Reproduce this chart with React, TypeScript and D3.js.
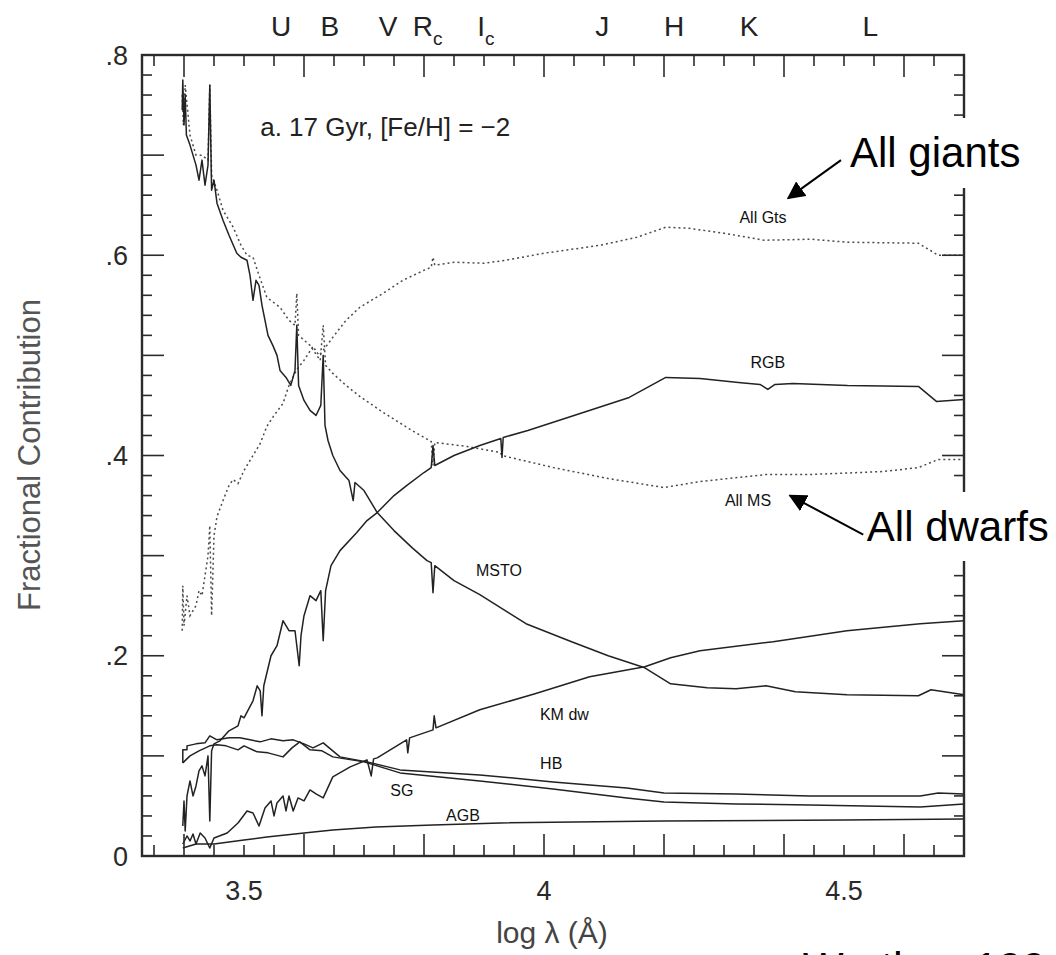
import React from 'react';
import * as d3 from 'd3';

// log(lambda) vs fractional contribution
const msto = [
  [3.397, 0.745], [3.398, 0.775], [3.4, 0.73], [3.402, 0.76], [3.404, 0.72], [3.41, 0.71], [3.42, 0.69],
  [3.425, 0.675], [3.43, 0.695], [3.435, 0.67], [3.44, 0.69], [3.443, 0.77], [3.446, 0.665], [3.45, 0.675],
  [3.455, 0.652], [3.465, 0.635], [3.475, 0.62], [3.488, 0.602], [3.495, 0.598], [3.505, 0.595], [3.51, 0.58],
  [3.515, 0.555], [3.52, 0.575], [3.525, 0.57], [3.53, 0.55], [3.535, 0.535], [3.54, 0.52], [3.548, 0.51],
  [3.555, 0.5], [3.56, 0.485], [3.57, 0.478], [3.578, 0.47], [3.585, 0.485], [3.588, 0.53], [3.591, 0.47],
  [3.6, 0.455], [3.61, 0.445], [3.62, 0.44], [3.628, 0.45], [3.632, 0.5], [3.635, 0.43], [3.64, 0.415],
  [3.648, 0.4], [3.66, 0.385], [3.675, 0.375], [3.682, 0.355], [3.685, 0.373], [3.7, 0.365], [3.722, 0.343],
  [3.75, 0.325], [3.78, 0.308], [3.805, 0.295], [3.812, 0.293], [3.815, 0.263], [3.818, 0.29], [3.85, 0.275],
  [3.893, 0.261], [3.97, 0.232], [4.046, 0.214], [4.107, 0.2], [4.168, 0.188], [4.211, 0.172], [4.272, 0.168],
  [4.32, 0.167], [4.37, 0.17], [4.419, 0.164], [4.505, 0.161], [4.624, 0.16], [4.645, 0.166], [4.7, 0.161],
];

const rgb = [
  [3.398, 0.03], [3.4, 0.055], [3.402, 0.025], [3.405, 0.06], [3.41, 0.075], [3.415, 0.06], [3.42, 0.07],
  [3.425, 0.085], [3.43, 0.09], [3.435, 0.08], [3.44, 0.1], [3.443, 0.035], [3.446, 0.105], [3.45, 0.112],
  [3.46, 0.115], [3.475, 0.125], [3.49, 0.13], [3.495, 0.14], [3.5, 0.138], [3.515, 0.155], [3.522, 0.17],
  [3.527, 0.165], [3.53, 0.14], [3.533, 0.17], [3.545, 0.2], [3.555, 0.21], [3.565, 0.235], [3.575, 0.225],
  [3.585, 0.225], [3.59, 0.2], [3.592, 0.19], [3.595, 0.22], [3.6, 0.24], [3.61, 0.26], [3.62, 0.255],
  [3.628, 0.265], [3.632, 0.215], [3.636, 0.265], [3.645, 0.29], [3.66, 0.305], [3.688, 0.323], [3.705, 0.335],
  [3.722, 0.343], [3.75, 0.36], [3.771, 0.37], [3.8, 0.383], [3.812, 0.388], [3.815, 0.41], [3.818, 0.39],
  [3.85, 0.4], [3.893, 0.41], [3.928, 0.417], [3.93, 0.398], [3.932, 0.418], [3.973, 0.425], [4.05, 0.44],
  [4.142, 0.458], [4.203, 0.478], [4.26, 0.477], [4.324, 0.473], [4.36, 0.471], [4.373, 0.466], [4.385, 0.471],
  [4.415, 0.472], [4.506, 0.47], [4.624, 0.469], [4.654, 0.454], [4.7, 0.456],
];

const allGiants = [
  [3.397, 0.225], [3.398, 0.27], [3.4, 0.23], [3.405, 0.26], [3.41, 0.24], [3.42, 0.25], [3.425, 0.265],
  [3.43, 0.26], [3.44, 0.3], [3.443, 0.33], [3.446, 0.24], [3.45, 0.32], [3.455, 0.339], [3.465, 0.355],
  [3.475, 0.37], [3.482, 0.376], [3.49, 0.372], [3.5, 0.385], [3.51, 0.395], [3.527, 0.412], [3.538, 0.429],
  [3.55, 0.44], [3.565, 0.452], [3.575, 0.47], [3.588, 0.486], [3.6, 0.495], [3.615, 0.509], [3.625, 0.5],
  [3.632, 0.505], [3.648, 0.518], [3.67, 0.535], [3.693, 0.548], [3.732, 0.562], [3.765, 0.575], [3.8, 0.585],
  [3.812, 0.588], [3.815, 0.598], [3.818, 0.59], [3.85, 0.593], [3.9, 0.592], [3.936, 0.595], [4.0, 0.602],
  [4.094, 0.61], [4.155, 0.618], [4.203, 0.628], [4.24, 0.627], [4.3, 0.622], [4.367, 0.615], [4.445, 0.616],
  [4.506, 0.613], [4.624, 0.612], [4.657, 0.6], [4.7, 0.6],
];

const allMS = [
  [3.397, 0.76], [3.399, 0.73], [3.402, 0.77], [3.41, 0.72], [3.42, 0.7], [3.43, 0.7], [3.44, 0.695],
  [3.443, 0.77], [3.446, 0.68], [3.455, 0.665], [3.465, 0.645], [3.482, 0.628], [3.495, 0.61], [3.505, 0.6],
  [3.515, 0.598], [3.525, 0.58], [3.538, 0.558], [3.56, 0.548], [3.575, 0.535], [3.585, 0.53], [3.588, 0.562],
  [3.591, 0.52], [3.61, 0.51], [3.627, 0.495], [3.632, 0.53], [3.636, 0.49], [3.648, 0.482], [3.67, 0.47],
  [3.693, 0.459], [3.732, 0.443], [3.777, 0.426], [3.812, 0.414], [3.815, 0.39], [3.818, 0.413], [3.872, 0.409],
  [3.927, 0.403], [3.93, 0.4], [4.015, 0.388], [4.107, 0.377], [4.2, 0.368], [4.26, 0.374], [4.37, 0.381],
  [4.443, 0.381], [4.566, 0.384], [4.624, 0.388], [4.657, 0.396], [4.7, 0.396],
];

const kmDwarfs = [
  [3.398, 0.012], [3.405, 0.02], [3.41, 0.015], [3.415, 0.022], [3.42, 0.012], [3.427, 0.023], [3.435, 0.018],
  [3.443, 0.008], [3.45, 0.018], [3.472, 0.023], [3.49, 0.033], [3.505, 0.045], [3.515, 0.043], [3.525, 0.03],
  [3.535, 0.048], [3.545, 0.055], [3.55, 0.04], [3.555, 0.053], [3.565, 0.06], [3.57, 0.045], [3.575, 0.06],
  [3.582, 0.045], [3.59, 0.058], [3.6, 0.055], [3.61, 0.066], [3.62, 0.062], [3.632, 0.058], [3.648, 0.079],
  [3.677, 0.089], [3.705, 0.096], [3.712, 0.08], [3.716, 0.097], [3.722, 0.098], [3.771, 0.116], [3.773, 0.103],
  [3.776, 0.118], [3.815, 0.126], [3.817, 0.14], [3.82, 0.128], [3.893, 0.146], [3.985, 0.162], [4.076, 0.179],
  [4.168, 0.189], [4.211, 0.198], [4.26, 0.205], [4.382, 0.214], [4.505, 0.225], [4.627, 0.232], [4.7, 0.235],
];

const hb = [
  [3.398, 0.093], [3.398, 0.106], [3.405, 0.106], [3.405, 0.11], [3.42, 0.112], [3.435, 0.113], [3.443, 0.12],
  [3.455, 0.116], [3.475, 0.118], [3.493, 0.118], [3.51, 0.116], [3.527, 0.114], [3.545, 0.117], [3.565, 0.115],
  [3.582, 0.116], [3.6, 0.112], [3.615, 0.108], [3.632, 0.113], [3.66, 0.099], [3.705, 0.094], [3.76, 0.086],
  [3.893, 0.081], [4.015, 0.074], [4.138, 0.068], [4.2, 0.063], [4.32, 0.062], [4.443, 0.06], [4.627, 0.06],
  [4.657, 0.063], [4.7, 0.062],
];

const sg = [
  [3.398, 0.093], [3.41, 0.1], [3.425, 0.105], [3.443, 0.11], [3.455, 0.111], [3.47, 0.11], [3.49, 0.106],
  [3.5, 0.11], [3.522, 0.104], [3.54, 0.103], [3.565, 0.099], [3.58, 0.108], [3.593, 0.114], [3.61, 0.106],
  [3.63, 0.105], [3.648, 0.099], [3.7, 0.094], [3.76, 0.083], [3.893, 0.075], [4.015, 0.067], [4.138, 0.058],
  [4.2, 0.054], [4.32, 0.052], [4.443, 0.051], [4.627, 0.049], [4.7, 0.052],
];

const agb = [
  [3.398, 0.008], [3.42, 0.012], [3.45, 0.012], [3.5, 0.016], [3.538, 0.019], [3.6, 0.023], [3.648, 0.026],
  [3.72, 0.029], [3.815, 0.031], [3.927, 0.033], [4.2, 0.035], [4.5, 0.036], [4.7, 0.037],
];

// photometric bands along the top (log of effective wavelength)
const bandNames = ['U', 'B', 'V', 'R', 'I', 'J', 'H', 'K', 'L'];
const bandSubs = ['', '', '', 'c', 'c', '', '', '', ''];
const bandLogLam = [3.562, 3.643, 3.740, 3.806, 3.903, 4.097, 4.217, 4.342, 4.544];

const xTickVals = [3.5, 4, 4.5];
const xTickText = ['3.5', '4', '4.5'];
const yTickVals = [0, 0.2, 0.4, 0.6, 0.8];
const yTickText = ['0', '.2', '.4', '.6', '.8'];

// curve labels: text, logλ, value
const curveLabels = [
  ['All Gts', 4.365, 0.638],
  ['RGB', 4.373, 0.493],
  ['All MS', 4.34, 0.355],
  ['MSTO', 3.925, 0.285],
  ['KM dw', 4.034, 0.142],
  ['HB', 4.012, 0.093],
  ['SG', 3.763, 0.066],
  ['AGB', 3.865, 0.041],
];

const W = 1056, H = 955;
const FONT = '"Liberation Sans", Arial, Helvetica, sans-serif';

export default function App() {
  const x = d3.scaleLinear().domain([3.33, 4.7]).range([142, 964]);
  const y = d3.scaleLinear().domain([0, 0.8]).range([856, 55]);
  const line = d3.line<number[]>().x(d => x(d[0])).y(d => y(d[1]));

  const [x0, x1] = x.range();
  const [yb, yt] = y.range();

  const xTicks = d3.range(67, 94).map(i => ({ v: i * 0.05, major: i % 4 === 0 }));
  const yTicks = d3.range(1, 40).map(i => ({ v: i * 0.02, major: i % 5 === 0 }));

  const solid = [msto, rgb, kmDwarfs, hb, sg, agb];
  const dotted = [allGiants, allMS];

  return (
    <div style={{ position: 'absolute', left: 0, top: 0 }}>
      <svg width={W} height={H} style={{ display: 'block', background: '#fff' }} fontFamily={FONT}>
        {/* curves */}
        <g fill="none">
          {dotted.map((s, i) => (
            <path key={'d' + i} d={line(s) || ''} stroke="#4a4a4a" strokeWidth={1.5} strokeDasharray="2 3" />
          ))}
          {solid.map((s, i) => (
            <path key={'s' + i} d={line(s) || ''} stroke="#222" strokeWidth={1.5} strokeLinejoin="round" />
          ))}
        </g>

        {/* frame + ticks */}
        <g stroke="#2b2b2b">
          <rect x={x0} y={yt} width={x1 - x0} height={yb - yt} fill="none" strokeWidth={2.4} />
          {xTicks.map((t, i) => {
            const len = t.major ? 22 : 11;
            return (
              <g key={'xt' + i} strokeWidth={1.6}>
                <line x1={x(t.v)} x2={x(t.v)} y1={yb} y2={yb - len} />
                <line x1={x(t.v)} x2={x(t.v)} y1={yt} y2={yt + len} />
              </g>
            );
          })}
          {yTicks.map((t, i) => {
            const len = t.major ? 22 : 10;
            return (
              <g key={'yt' + i} strokeWidth={1.6}>
                <line x1={x0} x2={x0 + len} y1={y(t.v)} y2={y(t.v)} />
                <line x1={x1} x2={x1 - len} y1={y(t.v)} y2={y(t.v)} />
              </g>
            );
          })}
        </g>

        {/* tick labels */}
        <g fill="#2a2a2a" fontSize={27}>
          {xTickVals.map((v, i) => (
            <text key={'xl' + i} x={x(v)} y={900} textAnchor="middle">{xTickText[i]}</text>
          ))}
          {yTickVals.map((v, i) => (
            <text key={'yl' + i} x={128} y={y(v)} dy="0.36em" textAnchor="end">{yTickText[i]}</text>
          ))}
        </g>

        {/* band letters */}
        <g fill="#222" fontSize={28}>
          {bandNames.map((b, i) => (
            <text key={'b' + i} x={x(bandLogLam[i])} y={36} textAnchor="middle">
              {b}
              {bandSubs[i] && <tspan fontSize={19} dy={9}>{bandSubs[i]}</tspan>}
            </text>
          ))}
        </g>

        {/* axis titles */}
        <text x={552} y={943} textAnchor="middle" fontSize={30} fill="#444">log λ (Å)</text>
        <text transform="translate(40,455) rotate(-90)" textAnchor="middle" fontSize={31} fill="#555">
          Fractional Contribution
        </text>

        <text x={x(3.527)} y={y(0.728)} dy="0.36em" fontSize={26} fill="#222">a. 17 Gyr, [Fe/H] = −2</text>

        {/* curve labels */}
        <g fontSize={16} fill="#111" textAnchor="middle">
          {curveLabels.map((l, i) => (
            <text key={'cl' + i} x={x(l[1] as number)} y={y(l[2] as number)} dy="0.36em">{l[0] as string}</text>
          ))}
        </g>

        {/* overlaid annotations */}
        <defs>
          <marker id="ah" viewBox="0 0 10 10" refX="9" refY="5" markerWidth="9" markerHeight="9" orient="auto-start-reverse">
            <path d="M0,0 L10,5 L0,10 z" fill="#000" />
          </marker>
        </defs>
        <rect x={x(4.49)} y={118} width={W - x(4.49)} height={70} fill="#fff" />
        <text x={x(4.51)} y={y(0.688)} fontSize={42} fill="#000">All giants</text>
        <line x1={x(4.495)} y1={y(0.695)} x2={x(4.407)} y2={y(0.657)} stroke="#000" strokeWidth={2} markerEnd="url(#ah)" />

        <rect x={x(4.53)} y={492} width={W - x(4.53)} height={69} fill="#fff" />
        <text x={x(4.538)} y={y(0.315)} fontSize={42} fill="#000">All dwarfs</text>
        <line x1={x(4.532)} y1={y(0.321)} x2={x(4.41)} y2={y(0.36)} stroke="#000" strokeWidth={2} markerEnd="url(#ah)" />

        {/* reference credit, cut by the bottom edge as in the original slide */}
        <text x={803} y={982} fontSize={43} fill="#000">Worthey 1994</text>
      </svg>
    </div>
  );
}
